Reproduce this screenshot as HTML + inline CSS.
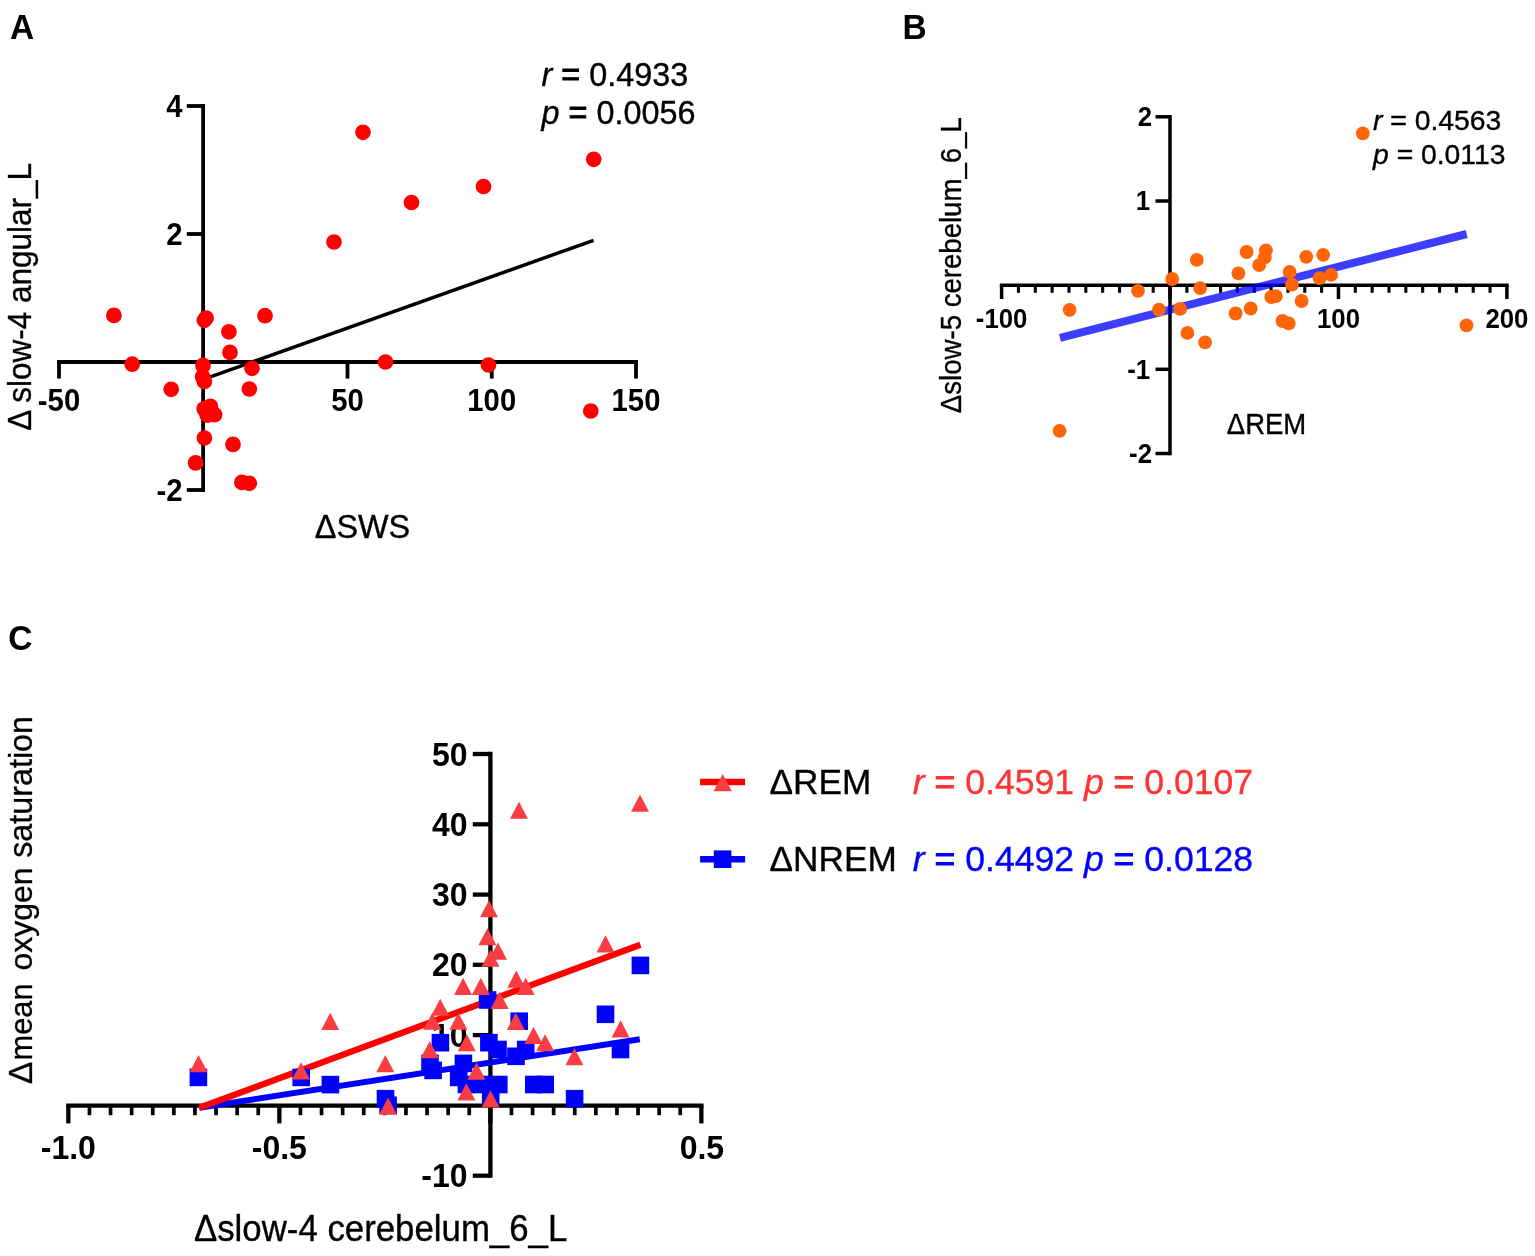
<!DOCTYPE html>
<html lang="en">
<head>
<meta charset="utf-8">
<title>Figure: correlation scatter plots</title>
<style>
html, body { margin: 0; padding: 0; background: #ffffff; }
body { width: 1535px; height: 1256px; overflow: hidden; }
svg { display: block; }
svg text { font-family: "Liberation Sans", Arial, Helvetica, sans-serif; }
</style>
</head>
<body>
<svg width="1535" height="1256" viewBox="0 0 1535 1256" stroke-linecap="butt">
<rect width="1535" height="1256" fill="#ffffff"/>
<g id="panelA">
<text transform="translate(9.9 39.2) scale(1 1.04)" font-size="33.5" text-anchor="start" font-weight="700">A</text>
<line x1="203.1" y1="104.1" x2="203.1" y2="491.9" stroke="#000" stroke-width="3.8"/>
<line x1="57.1" y1="362" x2="637.9" y2="362" stroke="#000" stroke-width="3.8"/>
<line x1="186.8" y1="106" x2="203.1" y2="106" stroke="#000" stroke-width="3.8"/>
<line x1="186.8" y1="234" x2="203.1" y2="234" stroke="#000" stroke-width="3.8"/>
<line x1="186.8" y1="490" x2="203.1" y2="490" stroke="#000" stroke-width="3.8"/>
<line x1="59" y1="362" x2="59" y2="378.6" stroke="#000" stroke-width="3.8"/>
<line x1="347.5" y1="362" x2="347.5" y2="378.6" stroke="#000" stroke-width="3.8"/>
<line x1="491.75" y1="362" x2="491.75" y2="378.6" stroke="#000" stroke-width="3.8"/>
<line x1="636" y1="362" x2="636" y2="378.6" stroke="#000" stroke-width="3.8"/>
<text transform="translate(182.6 116.5) scale(1 1.05)" font-size="29.3" text-anchor="end" font-weight="700">4</text>
<text transform="translate(182.6 244.5) scale(1 1.05)" font-size="29.3" text-anchor="end" font-weight="700">2</text>
<text transform="translate(182.6 500.5) scale(1 1.05)" font-size="29.3" text-anchor="end" font-weight="700">-2</text>
<text transform="translate(59 411) scale(1 1.05)" font-size="29.3" text-anchor="middle" font-weight="700">-50</text>
<text transform="translate(347.5 411) scale(1 1.05)" font-size="29.3" text-anchor="middle" font-weight="700">50</text>
<text transform="translate(491.75 411) scale(1 1.05)" font-size="29.3" text-anchor="middle" font-weight="700">100</text>
<text transform="translate(636 411) scale(1 1.05)" font-size="29.3" text-anchor="middle" font-weight="700">150</text>
<text transform="translate(31.4 296.8) rotate(-90) scale(1 1.04)" font-size="31.5" text-anchor="middle" stroke="#000" stroke-width="0.35">&#916; slow-4 angular_L</text>
<text transform="translate(362.5 538.3) scale(1 1.04)" font-size="32.4" text-anchor="middle" stroke="#000" stroke-width="0.35">&#916;SWS</text>
<line x1="204" y1="379.2" x2="593.6" y2="240.3" stroke="#000" stroke-width="3.5"/>
<text transform="translate(541.5 86) scale(1 1.04)" font-size="32.4" text-anchor="start" stroke="#000" stroke-width="0.35"><tspan font-style="italic">r</tspan> <tspan stroke-width="0.9">=</tspan> 0.4933</text>
<text transform="translate(541.5 124) scale(1 1.04)" font-size="32.4" text-anchor="start" stroke="#000" stroke-width="0.35"><tspan font-style="italic">p</tspan> <tspan stroke-width="0.9">=</tspan> 0.0056</text>
<g fill="#ff0000">
<circle cx="363" cy="132.3" r="7.85"/>
<circle cx="593.7" cy="159.3" r="7.85"/>
<circle cx="483.5" cy="186.5" r="7.85"/>
<circle cx="411.5" cy="202.5" r="7.85"/>
<circle cx="334" cy="242" r="7.85"/>
<circle cx="113.9" cy="315.4" r="7.85"/>
<circle cx="204.4" cy="320.3" r="7.85"/>
<circle cx="206.1" cy="318" r="7.85"/>
<circle cx="265" cy="315.7" r="7.85"/>
<circle cx="228.9" cy="331.8" r="7.85"/>
<circle cx="230" cy="352.4" r="7.85"/>
<circle cx="132.2" cy="364.2" r="7.85"/>
<circle cx="203" cy="365.4" r="7.85"/>
<circle cx="252" cy="368.3" r="7.85"/>
<circle cx="385.5" cy="362" r="7.85"/>
<circle cx="488.5" cy="365" r="7.85"/>
<circle cx="202.6" cy="376.7" r="7.85"/>
<circle cx="204.4" cy="381.4" r="7.85"/>
<circle cx="171.2" cy="389.3" r="7.85"/>
<circle cx="249.3" cy="389" r="7.85"/>
<circle cx="590.8" cy="411" r="7.85"/>
<circle cx="204.2" cy="408.9" r="7.85"/>
<circle cx="210.4" cy="406.4" r="7.85"/>
<circle cx="214.6" cy="414.7" r="7.85"/>
<circle cx="207.2" cy="415.2" r="7.85"/>
<circle cx="204.4" cy="438" r="7.85"/>
<circle cx="233" cy="444.4" r="7.85"/>
<circle cx="195.6" cy="462.9" r="7.85"/>
<circle cx="241.9" cy="482.4" r="7.85"/>
<circle cx="249.3" cy="483.3" r="7.85"/>
</g>
</g>
<g id="panelB">
<text transform="translate(902.6 39.2) scale(1 1.04)" font-size="33.5" text-anchor="start" font-weight="700">B</text>
<line x1="1170" y1="115.05" x2="1170" y2="455.25" stroke="#000" stroke-width="3.5"/>
<line x1="999.85" y1="285.15" x2="1508.65" y2="285.15" stroke="#000" stroke-width="3.5"/>
<line x1="1155.5" y1="116.8" x2="1170" y2="116.8" stroke="#000" stroke-width="3.5"/>
<line x1="1155.5" y1="201" x2="1170" y2="201" stroke="#000" stroke-width="3.5"/>
<line x1="1155.5" y1="369.3" x2="1170" y2="369.3" stroke="#000" stroke-width="3.5"/>
<line x1="1155.5" y1="453.5" x2="1170" y2="453.5" stroke="#000" stroke-width="3.5"/>
<line x1="1001.6" y1="285.15" x2="1001.6" y2="299" stroke="#000" stroke-width="3.5"/>
<line x1="1018.44" y1="285.15" x2="1018.44" y2="292.8" stroke="#000" stroke-width="3.1"/>
<line x1="1035.29" y1="285.15" x2="1035.29" y2="292.8" stroke="#000" stroke-width="3.1"/>
<line x1="1052.13" y1="285.15" x2="1052.13" y2="292.8" stroke="#000" stroke-width="3.1"/>
<line x1="1068.97" y1="285.15" x2="1068.97" y2="292.8" stroke="#000" stroke-width="3.1"/>
<line x1="1085.82" y1="285.15" x2="1085.82" y2="292.8" stroke="#000" stroke-width="3.1"/>
<line x1="1102.66" y1="285.15" x2="1102.66" y2="292.8" stroke="#000" stroke-width="3.1"/>
<line x1="1119.5" y1="285.15" x2="1119.5" y2="292.8" stroke="#000" stroke-width="3.1"/>
<line x1="1136.34" y1="285.15" x2="1136.34" y2="292.8" stroke="#000" stroke-width="3.1"/>
<line x1="1153.19" y1="285.15" x2="1153.19" y2="292.8" stroke="#000" stroke-width="3.1"/>
<line x1="1170.03" y1="285.15" x2="1170.03" y2="299" stroke="#000" stroke-width="3.5"/>
<line x1="1186.87" y1="285.15" x2="1186.87" y2="292.8" stroke="#000" stroke-width="3.1"/>
<line x1="1203.72" y1="285.15" x2="1203.72" y2="292.8" stroke="#000" stroke-width="3.1"/>
<line x1="1220.56" y1="285.15" x2="1220.56" y2="292.8" stroke="#000" stroke-width="3.1"/>
<line x1="1237.4" y1="285.15" x2="1237.4" y2="292.8" stroke="#000" stroke-width="3.1"/>
<line x1="1254.25" y1="285.15" x2="1254.25" y2="292.8" stroke="#000" stroke-width="3.1"/>
<line x1="1271.09" y1="285.15" x2="1271.09" y2="292.8" stroke="#000" stroke-width="3.1"/>
<line x1="1287.93" y1="285.15" x2="1287.93" y2="292.8" stroke="#000" stroke-width="3.1"/>
<line x1="1304.77" y1="285.15" x2="1304.77" y2="292.8" stroke="#000" stroke-width="3.1"/>
<line x1="1321.62" y1="285.15" x2="1321.62" y2="292.8" stroke="#000" stroke-width="3.1"/>
<line x1="1338.46" y1="285.15" x2="1338.46" y2="299" stroke="#000" stroke-width="3.5"/>
<line x1="1355.3" y1="285.15" x2="1355.3" y2="292.8" stroke="#000" stroke-width="3.1"/>
<line x1="1372.15" y1="285.15" x2="1372.15" y2="292.8" stroke="#000" stroke-width="3.1"/>
<line x1="1388.99" y1="285.15" x2="1388.99" y2="292.8" stroke="#000" stroke-width="3.1"/>
<line x1="1405.83" y1="285.15" x2="1405.83" y2="292.8" stroke="#000" stroke-width="3.1"/>
<line x1="1422.67" y1="285.15" x2="1422.67" y2="292.8" stroke="#000" stroke-width="3.1"/>
<line x1="1439.52" y1="285.15" x2="1439.52" y2="292.8" stroke="#000" stroke-width="3.1"/>
<line x1="1456.36" y1="285.15" x2="1456.36" y2="292.8" stroke="#000" stroke-width="3.1"/>
<line x1="1473.2" y1="285.15" x2="1473.2" y2="292.8" stroke="#000" stroke-width="3.1"/>
<line x1="1490.05" y1="285.15" x2="1490.05" y2="292.8" stroke="#000" stroke-width="3.1"/>
<line x1="1506.89" y1="285.15" x2="1506.89" y2="299" stroke="#000" stroke-width="3.5"/>
<text transform="translate(1152 126.2) scale(1 1.08)" font-size="25.8" text-anchor="end" font-weight="700">2</text>
<text transform="translate(1150.2 210.4) scale(1 1.08)" font-size="25.8" text-anchor="end" font-weight="700">1</text>
<text transform="translate(1150.2 378.7) scale(1 1.08)" font-size="25.8" text-anchor="end" font-weight="700">-1</text>
<text transform="translate(1152 462.9) scale(1 1.08)" font-size="25.8" text-anchor="end" font-weight="700">-2</text>
<text transform="translate(1001.6 327.8) scale(1 1.08)" font-size="25.8" text-anchor="middle" font-weight="700">-100</text>
<text transform="translate(1338.5 327.8) scale(1 1.08)" font-size="25.8" text-anchor="middle" font-weight="700">100</text>
<text transform="translate(1506.9 327.8) scale(1 1.08)" font-size="25.8" text-anchor="middle" font-weight="700">200</text>
<text transform="translate(960.9 265.2) rotate(-90) scale(1 1.04)" font-size="27.6" text-anchor="middle" stroke="#000" stroke-width="0.35">&#916;slow-5 cerebelum_6_L</text>
<text transform="translate(1266.5 434.4) scale(1 1.04)" font-size="27.5" text-anchor="middle" stroke="#000" stroke-width="0.35">&#916;REM</text>
<line x1="1060" y1="337.8" x2="1466.7" y2="234" stroke="#0000ff" stroke-width="8" stroke-opacity="0.76"/>
<text transform="translate(1373 130.2) scale(1 1.0)" font-size="28.3" text-anchor="start" stroke="#000" stroke-width="0.35"><tspan font-style="italic">r</tspan> <tspan stroke-width="0.6">=</tspan> 0.4563</text>
<text transform="translate(1373 164) scale(1 1.0)" font-size="28.3" text-anchor="start" stroke="#000" stroke-width="0.35"><tspan font-style="italic">p</tspan> <tspan stroke-width="0.6">=</tspan> 0.0113</text>
<g fill="#ff6408">
<circle cx="1362.8" cy="133.3" r="6.9"/>
<circle cx="1059.6" cy="430.8" r="6.9"/>
<circle cx="1069.6" cy="309.8" r="6.9"/>
<circle cx="1138" cy="290.8" r="6.9"/>
<circle cx="1159" cy="309.7" r="6.9"/>
<circle cx="1172.2" cy="279" r="6.9"/>
<circle cx="1180.1" cy="308.9" r="6.9"/>
<circle cx="1187.4" cy="332.9" r="6.9"/>
<circle cx="1196.8" cy="259.9" r="6.9"/>
<circle cx="1200.1" cy="288.1" r="6.9"/>
<circle cx="1205.1" cy="342.3" r="6.9"/>
<circle cx="1235.6" cy="313.5" r="6.9"/>
<circle cx="1238.4" cy="273.3" r="6.9"/>
<circle cx="1246.6" cy="252" r="6.9"/>
<circle cx="1250.7" cy="308.5" r="6.9"/>
<circle cx="1259.2" cy="265.2" r="6.9"/>
<circle cx="1264.8" cy="257.4" r="6.9"/>
<circle cx="1265.9" cy="250.5" r="6.9"/>
<circle cx="1271.3" cy="297" r="6.9"/>
<circle cx="1275.8" cy="296.2" r="6.9"/>
<circle cx="1282.5" cy="321" r="6.9"/>
<circle cx="1288.7" cy="323.4" r="6.9"/>
<circle cx="1289.6" cy="272" r="6.9"/>
<circle cx="1292" cy="284.7" r="6.9"/>
<circle cx="1301.6" cy="301" r="6.9"/>
<circle cx="1306.3" cy="256.8" r="6.9"/>
<circle cx="1319.6" cy="278.2" r="6.9"/>
<circle cx="1323.2" cy="254.8" r="6.9"/>
<circle cx="1331.1" cy="274.9" r="6.9"/>
<circle cx="1466.5" cy="325.4" r="6.9"/>
</g>
</g>
<g id="panelC">
<text transform="translate(8.2 649.5) scale(1 1.04)" font-size="33.5" text-anchor="start" font-weight="700">C</text>
<line x1="490.4" y1="751.85" x2="490.4" y2="1177.85" stroke="#000" stroke-width="4.3"/>
<line x1="66.2" y1="1105.6" x2="703.55" y2="1105.6" stroke="#000" stroke-width="4.3"/>
<line x1="472.8" y1="754" x2="490.4" y2="754" stroke="#000" stroke-width="4.3"/>
<line x1="472.8" y1="824.3" x2="490.4" y2="824.3" stroke="#000" stroke-width="4.3"/>
<line x1="472.8" y1="894.6" x2="490.4" y2="894.6" stroke="#000" stroke-width="4.3"/>
<line x1="472.8" y1="964.8" x2="490.4" y2="964.8" stroke="#000" stroke-width="4.3"/>
<line x1="472.8" y1="1035.1" x2="490.4" y2="1035.1" stroke="#000" stroke-width="4.3"/>
<line x1="472.8" y1="1175.7" x2="490.4" y2="1175.7" stroke="#000" stroke-width="4.3"/>
<line x1="68.35" y1="1105.6" x2="68.35" y2="1123.4" stroke="#000" stroke-width="4.3"/>
<line x1="89.45" y1="1105.6" x2="89.45" y2="1115.2" stroke="#000" stroke-width="3.7"/>
<line x1="110.55" y1="1105.6" x2="110.55" y2="1115.2" stroke="#000" stroke-width="3.7"/>
<line x1="131.65" y1="1105.6" x2="131.65" y2="1115.2" stroke="#000" stroke-width="3.7"/>
<line x1="152.75" y1="1105.6" x2="152.75" y2="1115.2" stroke="#000" stroke-width="3.7"/>
<line x1="173.85" y1="1105.6" x2="173.85" y2="1115.2" stroke="#000" stroke-width="3.7"/>
<line x1="194.95" y1="1105.6" x2="194.95" y2="1115.2" stroke="#000" stroke-width="3.7"/>
<line x1="216.05" y1="1105.6" x2="216.05" y2="1115.2" stroke="#000" stroke-width="3.7"/>
<line x1="237.15" y1="1105.6" x2="237.15" y2="1115.2" stroke="#000" stroke-width="3.7"/>
<line x1="258.25" y1="1105.6" x2="258.25" y2="1115.2" stroke="#000" stroke-width="3.7"/>
<line x1="279.35" y1="1105.6" x2="279.35" y2="1123.4" stroke="#000" stroke-width="4.3"/>
<line x1="300.45" y1="1105.6" x2="300.45" y2="1115.2" stroke="#000" stroke-width="3.7"/>
<line x1="321.55" y1="1105.6" x2="321.55" y2="1115.2" stroke="#000" stroke-width="3.7"/>
<line x1="342.65" y1="1105.6" x2="342.65" y2="1115.2" stroke="#000" stroke-width="3.7"/>
<line x1="363.75" y1="1105.6" x2="363.75" y2="1115.2" stroke="#000" stroke-width="3.7"/>
<line x1="384.85" y1="1105.6" x2="384.85" y2="1115.2" stroke="#000" stroke-width="3.7"/>
<line x1="405.95" y1="1105.6" x2="405.95" y2="1115.2" stroke="#000" stroke-width="3.7"/>
<line x1="427.05" y1="1105.6" x2="427.05" y2="1115.2" stroke="#000" stroke-width="3.7"/>
<line x1="448.15" y1="1105.6" x2="448.15" y2="1115.2" stroke="#000" stroke-width="3.7"/>
<line x1="469.25" y1="1105.6" x2="469.25" y2="1115.2" stroke="#000" stroke-width="3.7"/>
<line x1="490.35" y1="1105.6" x2="490.35" y2="1123.4" stroke="#000" stroke-width="4.3"/>
<line x1="511.45" y1="1105.6" x2="511.45" y2="1115.2" stroke="#000" stroke-width="3.7"/>
<line x1="532.55" y1="1105.6" x2="532.55" y2="1115.2" stroke="#000" stroke-width="3.7"/>
<line x1="553.65" y1="1105.6" x2="553.65" y2="1115.2" stroke="#000" stroke-width="3.7"/>
<line x1="574.75" y1="1105.6" x2="574.75" y2="1115.2" stroke="#000" stroke-width="3.7"/>
<line x1="595.85" y1="1105.6" x2="595.85" y2="1115.2" stroke="#000" stroke-width="3.7"/>
<line x1="616.95" y1="1105.6" x2="616.95" y2="1115.2" stroke="#000" stroke-width="3.7"/>
<line x1="638.05" y1="1105.6" x2="638.05" y2="1115.2" stroke="#000" stroke-width="3.7"/>
<line x1="659.15" y1="1105.6" x2="659.15" y2="1115.2" stroke="#000" stroke-width="3.7"/>
<line x1="680.25" y1="1105.6" x2="680.25" y2="1115.2" stroke="#000" stroke-width="3.7"/>
<line x1="701.35" y1="1105.6" x2="701.35" y2="1123.4" stroke="#000" stroke-width="4.3"/>
<text transform="translate(467.6 765.6) scale(1 1.02)" font-size="32" text-anchor="end" font-weight="700">50</text>
<text transform="translate(467.6 835.9) scale(1 1.02)" font-size="32" text-anchor="end" font-weight="700">40</text>
<text transform="translate(467.6 906.2) scale(1 1.02)" font-size="32" text-anchor="end" font-weight="700">30</text>
<text transform="translate(467.6 976.4) scale(1 1.02)" font-size="32" text-anchor="end" font-weight="700">20</text>
<text transform="translate(467.6 1046.7) scale(1 1.02)" font-size="32" text-anchor="end" font-weight="700">10</text>
<text transform="translate(467.6 1187.3) scale(1 1.02)" font-size="32" text-anchor="end" font-weight="700">-10</text>
<text transform="translate(68.35 1159.4) scale(1 1.03)" font-size="32" text-anchor="middle" font-weight="700">-1.0</text>
<text transform="translate(279.35 1159.4) scale(1 1.03)" font-size="32" text-anchor="middle" font-weight="700">-0.5</text>
<text transform="translate(701.9 1159.4) scale(1 1.03)" font-size="32" text-anchor="middle" font-weight="700">0.5</text>
<text transform="translate(31.9 1083.8) rotate(-90)" font-size="32" stroke="#000" stroke-width="0.3"><tspan x="-0.3" font-size="33.5">&#916;</tspan><tspan x="23.4" font-size="30.8">mean</tspan><tspan x="113.2">oxygen</tspan><tspan x="226.0" font-size="32.3">saturation</tspan></text>
<text transform="translate(380.6 1241.2) scale(1 1.04)" font-size="34.8" text-anchor="middle" stroke="#000" stroke-width="0.35">&#916;slow-4 cerebelum_6_L</text>
<line x1="199.3" y1="1107.8" x2="639.8" y2="1039.2" stroke="#0000ff" stroke-width="6"/>
<line x1="199.3" y1="1107.8" x2="640.4" y2="944.7" stroke="#ff0000" stroke-width="6.3"/>
<g fill="#0000ff">
<rect x="189.6" y="1068.6" width="17.6" height="17.6"/>
<rect x="292.4" y="1068.6" width="17.6" height="17.6"/>
<rect x="321.6" y="1075.8" width="17.6" height="17.6"/>
<rect x="376.7" y="1089.9" width="17.6" height="17.6"/>
<rect x="379.3" y="1096.5" width="17.6" height="17.6"/>
<rect x="421.2" y="1054.6" width="17.6" height="17.6"/>
<rect x="424.3" y="1061.6" width="17.6" height="17.6"/>
<rect x="431.6" y="1033.9" width="17.6" height="17.6"/>
<rect x="454.6" y="1054.6" width="17.6" height="17.6"/>
<rect x="449.9" y="1068.6" width="17.6" height="17.6"/>
<rect x="457.6" y="1075.7" width="17.6" height="17.6"/>
<rect x="472.8" y="1075.7" width="17.6" height="17.6"/>
<rect x="490" y="1075.7" width="17.6" height="17.6"/>
<rect x="481.9" y="1087.2" width="17.6" height="17.6"/>
<rect x="480.1" y="1033.9" width="17.6" height="17.6"/>
<rect x="489.2" y="1040.7" width="17.6" height="17.6"/>
<rect x="478.8" y="991.2" width="17.6" height="17.6"/>
<rect x="510.4" y="1012.4" width="17.6" height="17.6"/>
<rect x="516.9" y="1040.7" width="17.6" height="17.6"/>
<rect x="507.2" y="1047.5" width="17.6" height="17.6"/>
<rect x="525" y="1075.7" width="17.6" height="17.6"/>
<rect x="536.4" y="1075.7" width="17.6" height="17.6"/>
<rect x="596.7" y="1005.5" width="17.6" height="17.6"/>
<rect x="611.7" y="1040.7" width="17.6" height="17.6"/>
<rect x="631.6" y="956.6" width="17.6" height="17.6"/>
<rect x="565.8" y="1089.9" width="17.6" height="17.6"/>
</g>
<g fill="#f83e42">
<path d="M189.6 1072.15L207.6 1072.15L198.6 1054.95Z"/>
<path d="M292 1079.45L310 1079.45L301 1062.25Z"/>
<path d="M321.2 1029.95L339.2 1029.95L330.2 1012.75Z"/>
<path d="M376.3 1072.25L394.3 1072.25L385.3 1055.05Z"/>
<path d="M379.1 1114.65L397.1 1114.65L388.1 1097.45Z"/>
<path d="M420.7 1058.25L438.7 1058.25L429.7 1041.05Z"/>
<path d="M423.4 1029.85L441.4 1029.85L432.4 1012.65Z"/>
<path d="M431.2 1015.85L449.2 1015.85L440.2 998.65Z"/>
<path d="M449.4 1029.85L467.4 1029.85L458.4 1012.65Z"/>
<path d="M457.8 1051.35L475.8 1051.35L466.8 1034.15Z"/>
<path d="M454.1 994.95L472.1 994.95L463.1 977.75Z"/>
<path d="M471.8 994.95L489.8 994.95L480.8 977.75Z"/>
<path d="M467.5 1079.65L485.5 1079.65L476.5 1062.45Z"/>
<path d="M457.4 1100.45L475.4 1100.45L466.4 1083.25Z"/>
<path d="M481.5 1107.55L499.5 1107.55L490.5 1090.35Z"/>
<path d="M478.4 945.35L496.4 945.35L487.4 928.15Z"/>
<path d="M480 917.35L498 917.35L489 900.15Z"/>
<path d="M489 959.65L507 959.65L498 942.45Z"/>
<path d="M481.5 966.65L499.5 966.65L490.5 949.45Z"/>
<path d="M490.6 1009.05L508.6 1009.05L499.6 991.85Z"/>
<path d="M507.3 987.65L525.3 987.65L516.3 970.45Z"/>
<path d="M516.7 994.95L534.7 994.95L525.7 977.75Z"/>
<path d="M506.8 1029.95L524.8 1029.95L515.8 1012.75Z"/>
<path d="M510 818.85L528 818.85L519 801.65Z"/>
<path d="M524.5 1044.05L542.5 1044.05L533.5 1026.85Z"/>
<path d="M536.1 1051.35L554.1 1051.35L545.1 1034.15Z"/>
<path d="M565.4 1065.25L583.4 1065.25L574.4 1048.05Z"/>
<path d="M596.5 952.55L614.5 952.55L605.5 935.35Z"/>
<path d="M611.6 1037.45L629.6 1037.45L620.6 1020.25Z"/>
<path d="M631 811.65L649 811.65L640 794.45Z"/>
</g>
<line x1="700.1" y1="782" x2="745.1" y2="782" stroke="#ff0000" stroke-width="6.6"/>
<path fill="#f83e42" d="M713.6 791.15L731.8 791.15L722.7 773.95Z"/>
<line x1="700.1" y1="859.2" x2="745.1" y2="859.2" stroke="#0000ff" stroke-width="6.6"/>
<rect x="713.8" y="850.4" width="17.6" height="17.6" fill="#0000ff"/>
<text transform="translate(769.6 794.4) scale(1 1.01)" font-size="35.2" text-anchor="start" stroke="#000" stroke-width="0.35">&#916;REM</text>
<text transform="translate(769.6 871.2) scale(1 1.01)" font-size="35.2" text-anchor="start" stroke="#000" stroke-width="0.35">&#916;NREM</text>
<text transform="translate(912.8 794.1) scale(1 1.0)" font-size="35.6" text-anchor="start" stroke="#ff3333" stroke-width="0.35" fill="#ff3333"><tspan font-style="italic">r</tspan> <tspan stroke-width="1.0">=</tspan> 0.4591 <tspan font-style="italic">p</tspan> <tspan stroke-width="1.0">=</tspan> 0.0107</text>
<text transform="translate(912.8 870.8) scale(1 1.0)" font-size="35.6" text-anchor="start" stroke="#0000ff" stroke-width="0.35" fill="#0000ff"><tspan font-style="italic">r</tspan> <tspan stroke-width="1.0">=</tspan> 0.4492 <tspan font-style="italic">p</tspan> <tspan stroke-width="1.0">=</tspan> 0.0128</text>
</g>
</svg>
</body>
</html>
